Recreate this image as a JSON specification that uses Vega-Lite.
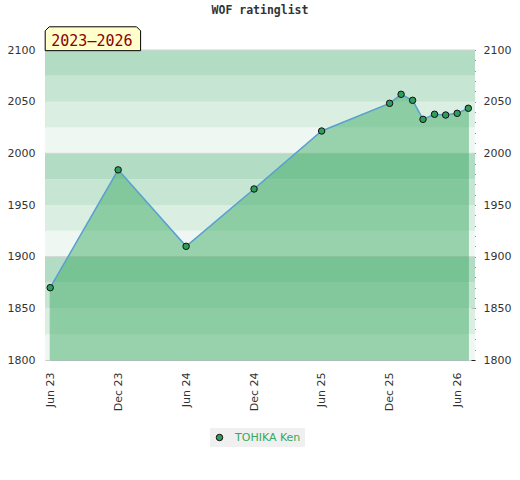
{
  "$schema": "https://vega.github.io/schema/vega-lite/v6.json",
  "width": 430,
  "height": 310,
  "autosize": "none",
  "padding": {"left": 45, "top": 50, "right": 45, "bottom": 120},
  "background": "white",
  "title": {
    "text": "WOF ratinglist",
    "font": "DejaVu Sans Mono",
    "fontSize": 11.5,
    "fontWeight": "bold",
    "color": "#333333",
    "anchor": "middle",
    "frame": "group",
    "offset": 8
  },
  "config": {
    "view": {"stroke": null},
    "axis": {
      "labelFont": "DejaVu Sans",
      "labelFontSize": 11,
      "labelColor": "#333333",
      "domainColor": "#cccccc",
      "grid": false,
      "zindex": 1
    },
    "axisX": {
      "title": null,
      "format": "%b %y",
      "formatType": "utc",
      "labelExpr": "utcFormat(datum.value, '%b %y')",
      "labelAngle": 270,
      "ticks": false,
      "labelPadding": 12
    }
  },
  "datasets": {
    "ratings": [
      {"date": "2023-06-01", "rating": 1870, "player": "TOHIKA Ken"},
      {"date": "2023-12-01", "rating": 1984, "player": "TOHIKA Ken"},
      {"date": "2024-06-01", "rating": 1910, "player": "TOHIKA Ken"},
      {"date": "2024-12-01", "rating": 1965.5, "player": "TOHIKA Ken"},
      {"date": "2025-06-01", "rating": 2021.6, "player": "TOHIKA Ken"},
      {"date": "2025-12-01", "rating": 2048.4, "player": "TOHIKA Ken"},
      {"date": "2026-01-01", "rating": 2057.1, "player": "TOHIKA Ken"},
      {"date": "2026-02-01", "rating": 2051.3, "player": "TOHIKA Ken"},
      {"date": "2026-03-01", "rating": 2032.9, "player": "TOHIKA Ken"},
      {"date": "2026-04-01", "rating": 2037.8, "player": "TOHIKA Ken"},
      {"date": "2026-05-01", "rating": 2037.1, "player": "TOHIKA Ken"},
      {"date": "2026-06-01", "rating": 2038.7, "player": "TOHIKA Ken"},
      {"date": "2026-07-01", "rating": 2043.6, "player": "TOHIKA Ken"}
    ],
    "bands": [
      {"lo": 1800, "hi": 1825, "level": 0},
      {"lo": 1825, "hi": 1850, "level": 1},
      {"lo": 1850, "hi": 1875, "level": 2},
      {"lo": 1875, "hi": 1900, "level": 3},
      {"lo": 1900, "hi": 1925, "level": 0},
      {"lo": 1925, "hi": 1950, "level": 1},
      {"lo": 1950, "hi": 1975, "level": 2},
      {"lo": 1975, "hi": 2000, "level": 3},
      {"lo": 2000, "hi": 2025, "level": 0},
      {"lo": 2025, "hi": 2050, "level": 1},
      {"lo": 2050, "hi": 2075, "level": 2},
      {"lo": 2075, "hi": 2100, "level": 3}
    ],
    "grid": [
      {"v": 1900},
      {"v": 2000},
      {"v": 2100}
    ],
    "label": [
      {"text": "2023\u20132026"}
    ]
  },
  "layer": [
    {
      "data": {"name": "bands"},
      "mark": {"type": "rect"},
      "encoding": {
        "y": {
          "field": "lo",
          "type": "quantitative",
          "scale": {"domain": [1800, 2100], "nice": false, "zero": false},
          "axis": {
            "orient": "left",
            "title": null,
            "values": [1800, 1850, 1900, 1950, 2000, 2050, 2100],
            "format": "d",
            "ticks": false,
            "labelPadding": 10
          }
        },
        "y2": {"field": "hi"},
        "fill": {
          "field": "level",
          "type": "ordinal",
          "scale": {"domain": [0, 1, 2, 3], "range": ["#eef7f2", "#daeee2", "#c6e5d3", "#b2dcc3"]},
          "legend": null
        }
      }
    },
    {
      "data": {"name": "grid"},
      "mark": {"type": "rule", "color": "#d4d4d4", "strokeWidth": 1},
      "encoding": {
        "y": {
          "field": "v",
          "type": "quantitative",
          "axis": {
            "orient": "right",
            "title": null,
            "values": [1800, 1810, 1820, 1830, 1840, 1850, 1860, 1870, 1880, 1890, 1900, 1910, 1920, 1930, 1940, 1950, 1960, 1970, 1980, 1990, 2000, 2010, 2020, 2030, 2040, 2050, 2060, 2070, 2080, 2090, 2100],
            "format": "d",
            "labelExpr": "datum.value % 50 === 0 ? datum.label : ''",
            "domain": false,
            "ticks": true,
            "tickSize": -4,
            "tickColor": "#222222",
            "labelPadding": 12
          }
        }
      }
    },
    {
      "data": {"name": "ratings"},
      "mark": {"type": "area", "color": "#31a65a", "opacity": 0.45, "stroke": "#2ca05a", "strokeWidth": 1, "strokeOpacity": 1},
      "encoding": {
        "x": {
          "field": "date",
          "type": "temporal",
          "scale": {
            "type": "utc",
            "domain": [1684368000000, 1784419200000]
          },
          "axis": {
            "values": [1685577600000, 1701388800000, 1717200000000, 1733011200000, 1748736000000, 1764547200000, 1780272000000]
          }
        },
        "y": {"field": "rating", "type": "quantitative", "axis": null},
        "y2": {"datum": 1800}
      }
    },
    {
      "data": {"name": "ratings"},
      "mark": {"type": "line", "color": "#5aa0d2", "strokeWidth": 1.5},
      "encoding": {
        "x": {"field": "date", "type": "temporal"},
        "y": {"field": "rating", "type": "quantitative", "axis": null}
      }
    },
    {
      "data": {"name": "ratings"},
      "mark": {"type": "point", "filled": true, "size": 42, "stroke": "#111111", "strokeWidth": 1, "opacity": 1},
      "encoding": {
        "x": {"field": "date", "type": "temporal"},
        "y": {"field": "rating", "type": "quantitative", "axis": null},
        "color": {
          "field": "player",
          "type": "nominal",
          "scale": {"range": ["#2f9e5a"]},
          "legend": {
            "orient": "none",
            "legendX": 165,
            "legendY": 378,
            "title": null,
            "fillColor": "#f0f0f0",
            "padding": 4,
            "labelColor": "#36a85e",
            "labelFont": "DejaVu Sans",
            "labelFontSize": 11,
            "labelOffset": 10,
            "symbolType": "circle",
            "symbolSize": 42,
            "symbolStrokeColor": "#111111",
            "symbolStrokeWidth": 1
          }
        }
      }
    },
    {
      "data": {"name": "label"},
      "mark": {
        "type": "point",
        "shape": "M-1,0.25L-1,-0.166L-0.916,-0.25L0.916,-0.25L1,-0.166L1,0.25Z",
        "size": 9101,
        "filled": true,
        "fill": "#ffffcc",
        "stroke": "#000000",
        "strokeWidth": 1,
        "opacity": 1
      },
      "encoding": {
        "x": {"datum": {"year": 2023, "month": 9, "date": 24, "utc": true}, "type": "temporal"},
        "y": {"datum": 2110.9, "type": "quantitative", "axis": null}
      }
    },
    {
      "data": {"name": "label"},
      "mark": {
        "type": "text",
        "font": "DejaVu Sans Mono",
        "fontSize": 15,
        "color": "#8b0000",
        "align": "center",
        "baseline": "alphabetic",
        "dx": -1
      },
      "encoding": {
        "text": {"field": "text"},
        "x": {"datum": {"year": 2023, "month": 9, "date": 24, "utc": true}, "type": "temporal"},
        "y": {"datum": 2104.2, "type": "quantitative", "axis": null}
      }
    }
  ]
}
